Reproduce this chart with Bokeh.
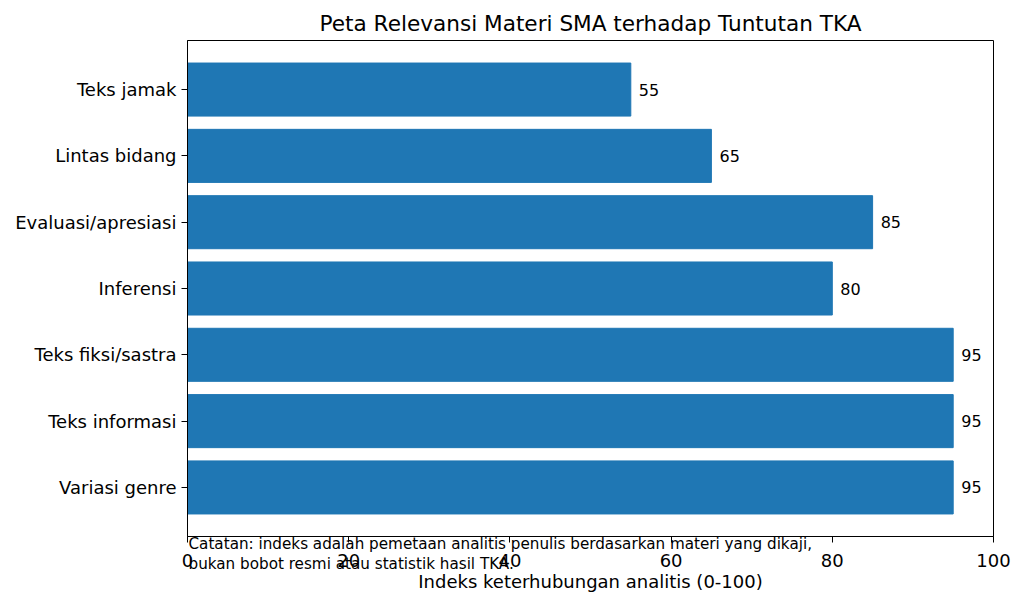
from bokeh.core.properties import value
from bokeh.embed import file_html
from bokeh.models import ColumnDataSource, FixedTicker, Range1d, Title
from bokeh.plotting import figure
from bokeh.resources import INLINE

categories = ["Variasi genre", "Teks informasi", "Teks fiksi/sastra", "Inferensi",
              "Evaluasi/apresiasi", "Lintas bidang", "Teks jamak"]
scores = [95, 95, 95, 80, 85, 65, 55]
x_ticks = [0, 20, 40, 60, 80, 100]

title = "Peta Relevansi Materi SMA terhadap Tuntutan TKA"
x_label = "Indeks keterhubungan analitis (0-100)"
note_lines = ["Catatan: indeks adalah pemetaan analitis penulis berdasarkan materi yang dikaji,",
              "bukan bobot resmi atau statistik hasil TKA."]

FONT = "DejaVu Sans"
positions = list(range(len(categories)))

src = ColumnDataSource(dict(
    y=positions, v=scores,
    lx=[s + 1 for s in scores],
    txt=[str(s) for s in scores],
))

p = figure(width=1016, height=598, output_backend="svg", toolbar_location=None,
           x_range=Range1d(0, 100), y_range=Range1d(-0.74, 6.74),
           min_border_left=187, min_border_right=23,
           min_border_top=40, min_border_bottom=62)

p.hbar(y="y", right="v", left=0, height=0.8, source=src, color="#1f77b4")
p.text(x="lx", y="y", text="txt", source=src, text_font=value(FONT),
       text_font_size="16px", text_baseline="middle", text_align="left",
       text_color="black")

p.title.text = title
p.title.align = "center"
p.title.text_font = FONT
p.title.text_font_size = "21.6px"
p.title.text_font_style = "normal"
p.title.text_color = "black"

p.xgrid.visible = False
p.ygrid.visible = False
p.outline_line_color = "black"
p.outline_line_width = 1
p.outline_line_alpha = 1

p.yaxis.ticker = FixedTicker(ticks=positions)
p.yaxis.major_label_overrides = {i: c for i, c in enumerate(categories)}
p.xaxis.ticker = FixedTicker(ticks=x_ticks)
p.xaxis.axis_label = x_label

for ax in (p.xaxis, p.yaxis):
    ax.major_label_text_font = FONT
    ax.major_label_text_font_size = "18px"
    ax.major_label_text_color = "black"
    ax.major_tick_out = 6
    ax.major_tick_in = 0
    ax.minor_tick_out = 0
    ax.minor_tick_in = 0
    ax.axis_line_color = "black"
    ax.major_tick_line_color = "black"
    ax.axis_label_text_font = FONT
    ax.axis_label_text_font_size = "18px"
    ax.axis_label_text_font_style = "normal"
    ax.axis_label_text_color = "black"

p.yaxis.major_label_standoff = 5
p.xaxis.major_label_standoff = 11
p.xaxis.axis_label_standoff = 1

# the note sits right under the frame, over the tick labels (as in the source);
# a negative standoff pulls it up from below the axis panel
note = Title(text="\n".join(note_lines), align="left", vertical_align="top",
             offset=1, standoff=-119, text_font=FONT, text_font_size="15.2px",
             text_line_height=1.1, text_font_style="normal", text_color="black")
p.add_layout(note, "below")

open("out.html", "w").write(file_html(p, INLINE))
